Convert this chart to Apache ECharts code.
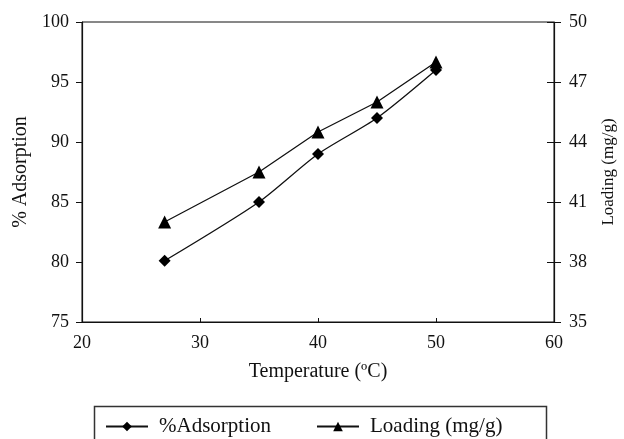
<!DOCTYPE html>
<html>
<head>
<meta charset="utf-8">
<script src="https://cdn.jsdelivr.net/npm/echarts@6/dist/echarts.min.js"></script>
<style>html,body{margin:0;padding:0;background:#fff;}#c{width:624px;height:439px;}</style>
</head>
<body>
<div id="c"></div>
<script>
const temperature = [27, 35, 40, 45, 50];
const adsorption = [80.1, 85, 89, 92, 96];
const loading = [40.0, 42.5, 44.5, 46.0, 48.0];
const xTicks = [20, 30, 40, 50, 60];
const leftTicks = [75, 80, 85, 90, 95, 100];
const rightTicks = [35, 38, 41, 44, 47, 50];

const font = 'Liberation Serif';
const chart = echarts.init(document.getElementById('c'));
const pair = (xs, ys) => xs.map((x, i) => [x, ys[i]]);
chart.setOption({
  backgroundColor: '#fff',
  animation: false,
  textStyle: { fontFamily: font, color: '#111' },
  grid: { left: 82, right: 70, top: 22, bottom: 117, containLabel: false, outerBoundsMode: 'none',
          show: true, borderColor: '#111', borderWidth: 1 },
  xAxis: {
    type: 'value', min: xTicks[0], max: xTicks[xTicks.length - 1], interval: 10,
    name: 'Temperature (ºC)', nameLocation: 'middle', nameGap: 40,
    nameTextStyle: { fontFamily: font, fontSize: 20, color: '#111' },
    axisLine: { lineStyle: { color: '#111', width: 1.2 } },
    axisTick: { inside: true, length: 4, lineStyle: { color: '#111' } },
    axisLabel: { fontFamily: font, fontSize: 18, color: '#111', margin: 12 },
    splitLine: { show: false }
  },
  yAxis: [
    {
      type: 'value', min: 75, max: 100, interval: 5,
      name: '% Adsorption', nameLocation: 'middle', nameGap: 50,
      nameTextStyle: { fontFamily: font, fontSize: 20, color: '#111' },
      axisLine: { show: true, lineStyle: { color: '#111', width: 1.2 } },
      axisTick: { show: true, length: 6, lineStyle: { color: '#111' } },
      axisLabel: { fontFamily: font, fontSize: 18, color: '#111', margin: 13 },
      splitLine: { show: false }
    },
    {
      type: 'value', min: 35, max: 50, interval: 3, position: 'right',
      name: 'Loading (mg/g)', nameLocation: 'middle', nameGap: 46, nameRotate: 90,
      nameTextStyle: { fontFamily: font, fontSize: 17, color: '#111' },
      axisLine: { show: true, lineStyle: { color: '#111', width: 1.2 } },
      axisTick: { show: true, length: 7, lineStyle: { color: '#111' } },
      axisLabel: { fontFamily: font, fontSize: 18, color: '#111', margin: 15 },
      splitLine: { show: false }
    },
    {
      type: 'value', min: 35, max: 50, interval: 3, position: 'right',
      axisLine: { show: false },
      axisTick: { show: true, inside: true, length: 7, lineStyle: { color: '#111' } },
      axisLabel: { show: false },
      splitLine: { show: false }
    }
  ],
  legend: {
    top: 411, left: 100, itemWidth: 42, itemHeight: 12, itemGap: 45,
    textStyle: { fontFamily: font, fontSize: 21, color: '#111', padding: [0, 0, 0, 6] },
    data: ['%Adsorption', 'Loading (mg/g)']
  },
  graphic: [{
    type: 'rect', left: 92, top: 404,
    shape: { width: 452, height: 60 },
    style: { fill: 'none', stroke: '#333', lineWidth: 1.5 }
  }],
  series: [
    {
      name: '%Adsorption', type: 'line', yAxisIndex: 0, data: pair(temperature, adsorption),
      smooth: 0.25, symbol: 'diamond', symbolSize: 12,
      lineStyle: { color: '#111', width: 1.3 }, itemStyle: { color: '#000' }
    },
    {
      name: 'Loading (mg/g)', type: 'line', yAxisIndex: 1, data: pair(temperature, loading),
      symbol: 'triangle', symbolSize: 13,
      lineStyle: { color: '#111', width: 1.3 }, itemStyle: { color: '#000' }
    }
  ]
});
</script>
</body>
</html>
